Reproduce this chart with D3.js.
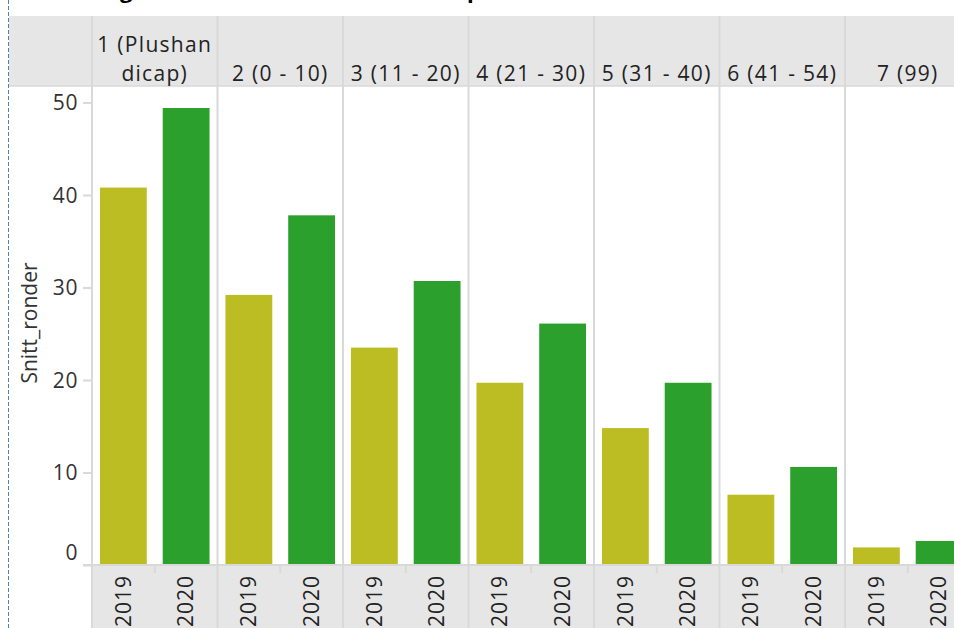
<!DOCTYPE html>
<html>
<head>
<meta charset="utf-8">
<script src="https://cdn.jsdelivr.net/npm/d3@7"></script>
<style>
  body { margin: 0; background: #fff; }
  svg { display: block; font-family: "Open Sans", "DejaVu Sans", sans-serif; }
</style>
</head>
<body>
<div id="chart"></div>
<script>
const width = 954;
const height = 628;

// data
const groups = ["1 (Plushandicap)", "2 (0 - 10)", "3 (11 - 20)", "4 (21 - 30)", "5 (31 - 40)", "6 (41 - 54)", "7 (99)"];
const groupLines = [["1 (Plushan", "dicap)"], ["2 (0 - 10)"], ["3 (11 - 20)"], ["4 (21 - 30)"], ["5 (31 - 40)"], ["6 (41 - 54)"], ["7 (99)"]];
const years = ["2019", "2020"];
const values2019 = [40.8, 29.2, 23.5, 19.7, 14.8, 7.6, 1.9];
const values2020 = [49.4, 37.8, 30.7, 26.1, 19.7, 10.6, 2.6];
const yTicks = [0, 10, 20, 30, 40, 50];
const colors = { "2019": "#bcbd22", "2020": "#2ca02c" };
const titleText = "Utvikling i snitt runder 2019 til 2020 etter handicap";

const left = 92, headerTop = 16, plotTop = 86, plotBottom = 565;
const gridColor = "#d9d9d9";
const headerFill = "#e6e6e6";

const rows = [];
groups.forEach((g, i) => {
    rows.push({ group: g, year: "2019", value: values2019[i] });
    rows.push({ group: g, year: "2020", value: values2020[i] });
});

const svg = d3.select("#chart").append("svg")
    .attr("width", width)
    .attr("height", height);

const x0 = d3.scaleBand().domain(groups).range([left, left + 125.5 * groups.length]);
const x1 = d3.scaleBand().domain(years).range([0, x0.bandwidth()])
    .paddingInner(0.254).paddingOuter(0.127);
const y = d3.scaleLinear().domain([0, 51.78]).range([plotBottom, plotTop]);

// title, mostly cut off above the view - only descenders show
const title = svg.append("text")
    .attr("x", 0)
    .attr("y", -2)
    .attr("font-size", 22)
    .attr("font-weight", "bold")
    .attr("fill", "#000")
    .text(titleText);
// line the "g" and last "p" up with the picture
const gi = titleText.indexOf("g"), pi = titleText.lastIndexOf("p");
const node = title.node();
let gx = node.getStartPositionOfChar(gi).x, px = node.getStartPositionOfChar(pi).x;
const ls = (467 - 120 - (px - gx)) / (pi - gi);
title.attr("letter-spacing", ls);
gx = node.getStartPositionOfChar(gi).x;
title.attr("x", 120 - gx);

// top header band
svg.append("rect")
    .attr("x", 9).attr("y", headerTop)
    .attr("width", width - 9).attr("height", plotTop - headerTop)
    .attr("fill", headerFill);

// bottom header band
svg.append("rect")
    .attr("x", left).attr("y", plotBottom)
    .attr("width", width - left).attr("height", height - plotBottom)
    .attr("fill", headerFill);

// header bottom line
svg.append("line")
    .attr("x1", 9).attr("x2", width)
    .attr("y1", plotTop).attr("y2", plotTop)
    .attr("stroke", gridColor).attr("stroke-width", 1.5);

// bars
const pane = svg.append("g").selectAll("g")
    .data(groups)
    .join("g")
    .attr("transform", d => `translate(${x0(d)},0)`);

pane.selectAll("rect")
    .data(g => rows.filter(r => r.group === g))
    .join("rect")
    .attr("x", d => x1(d.year))
    .attr("width", x1.bandwidth())
    .attr("y", d => y(d.value))
    .attr("height", d => y(0) - y(d.value))
    .attr("fill", d => colors[d.year]);

// pane separators
svg.append("g").selectAll("line")
    .data(groups)
    .join("line")
    .attr("x1", d => x0(d)).attr("x2", d => x0(d))
    .attr("y1", headerTop).attr("y2", height)
    .attr("stroke", gridColor).attr("stroke-width", 2);

// small ticks between years in the bottom header
svg.append("g").selectAll("line")
    .data(groups)
    .join("line")
    .attr("x1", d => x0(d) + x0.bandwidth() / 2)
    .attr("x2", d => x0(d) + x0.bandwidth() / 2)
    .attr("y1", plotBottom).attr("y2", plotBottom + 8)
    .attr("stroke", gridColor).attr("stroke-width", 2);

// zero line
svg.append("line")
    .attr("x1", left - 9).attr("x2", width)
    .attr("y1", plotBottom).attr("y2", plotBottom)
    .attr("stroke", gridColor).attr("stroke-width", 2);

// y axis
const yAxis = svg.append("g")
    .attr("transform", `translate(${left},0)`)
    .call(d3.axisLeft(y).tickValues(yTicks).tickSize(9).tickPadding(5))
    .attr("font-family", null)
    .attr("font-size", 21);
yAxis.select(".domain").remove();
yAxis.selectAll(".tick line").attr("stroke", gridColor).attr("stroke-width", 2);
yAxis.selectAll(".tick text").attr("fill", "#333").attr("dy", "0.35em").attr("letter-spacing", 0.6);
yAxis.selectAll(".tick").filter(d => d === 0).select("text").attr("dy", "-0.25em");

svg.append("line")
    .attr("x1", left).attr("x2", left)
    .attr("y1", plotTop).attr("y2", height)
    .attr("stroke", gridColor).attr("stroke-width", 2);

// y axis title
svg.append("text")
    .attr("transform", `translate(37,${323}) rotate(-90)`)
    .attr("text-anchor", "middle")
    .attr("font-size", 21)
    .attr("fill", "#333")
    .text("Snitt_ronder");

// group labels in the top header
const head = svg.append("g").selectAll("text")
    .data(groups)
    .join("text")
    .attr("x", d => x0(d) + x0.bandwidth() / 2)
    .attr("text-anchor", "middle")
    .attr("font-size", 21)
    .attr("letter-spacing", 1.3)
    .attr("fill", "#222");

head.each(function(d, i) {
    const lines = groupLines[i];
    const t = d3.select(this);
    lines.forEach((ln, j) => {
        t.append("tspan")
            .attr("x", x0(d) + x0.bandwidth() / 2)
            .attr("y", 81 - (lines.length - 1 - j) * 29)
            .text(ln);
    });
});

// year labels in the bottom header
pane.selectAll("text")
    .data(years)
    .join("text")
    .attr("transform", d => `translate(${x1(d) + x1.bandwidth() / 2},${plotBottom + 10}) rotate(-90)`)
    .attr("text-anchor", "end")
    .attr("dy", "0.35em")
    .attr("font-size", 21)
    .attr("letter-spacing", 1)
    .attr("fill", "#222")
    .text(d => d);

// dashed border on the left
svg.append("line")
    .attr("x1", 8.5).attr("x2", 8.5)
    .attr("y1", 0).attr("y2", height)
    .attr("stroke", "#4f7fb8")
    .attr("stroke-width", 1)
    .attr("stroke-dasharray", "4,2");
</script>
</body>
</html>
